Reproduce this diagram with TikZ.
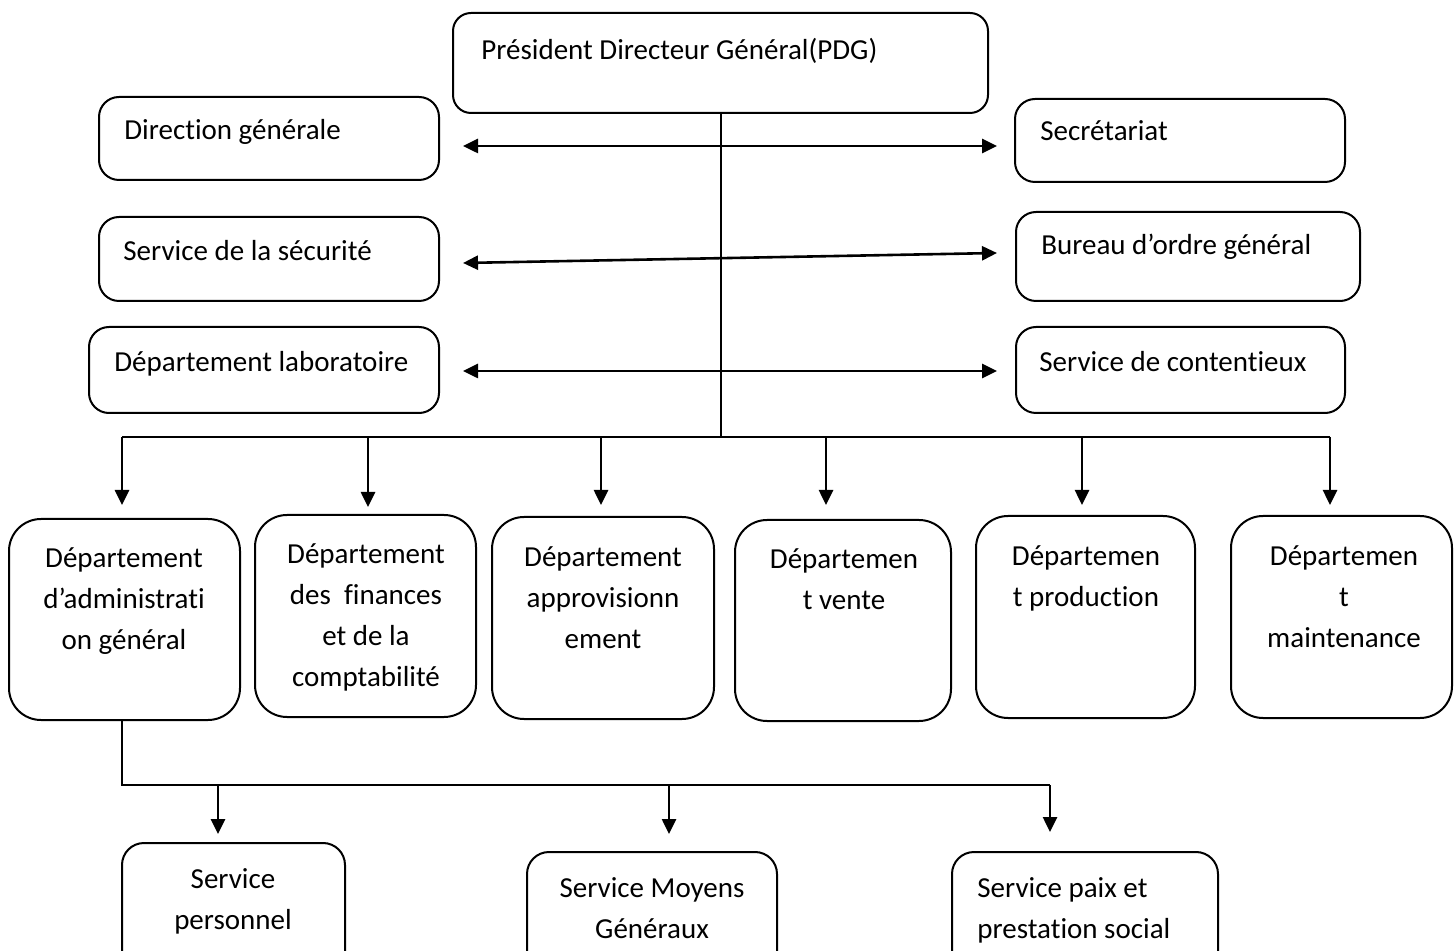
\documentclass[tikz,border=0pt]{standalone}
\usepackage{fontspec}
\setmainfont{Carlito}[RawFeature={-liga;-clig;-calt;-dlig}]
\usetikzlibrary{arrows.meta}
\newcommand{\firststrut}{\rule{0pt}{15pt}}
% keeps t and i as separate glyphs
\newcommand{\tsep}{\kern0pt}
\tikzset{
  box/.style={draw, line width=1pt, rounded corners=10pt, inner sep=0pt},
  dept/.style={box, rounded corners=16pt},
  lbl/.style={inner sep=0pt, font=\fontsize{14.5}{20.5}\selectfont},
  mlbl/.style={lbl, anchor=north, align=center},
  tip/.tip={Triangle[length=7.5pt,width=7pt]},
  arr/.style={line width=1.3pt, -tip},
  biarr/.style={line width=1.3pt, tip-tip},
  trunk/.style={line width=1pt},
}
\begin{document}
\begin{tikzpicture}[x=0.5pt, y=-0.5pt]
  \useasboundingbox (0,0) rectangle (1456,951);
  \clip (0,0) rectangle (1456,951);

  % top management
  \node[box, rounded corners=9pt, minimum width=267.5pt, minimum height=50pt] (pdg) at (720.5,63) {};
  \node[lbl, anchor=base west] (tpdg) at (481,60) {Président Directeur Général(PDG)};

  % staff units, left column
  \node[box, minimum width=170pt, minimum height=41.5pt] (dg) at (269,138.5) {};
  \node[lbl, anchor=base west] (tdg) at (124,140) {Direct\tsep ion générale};
  \node[box, minimum width=170pt, minimum height=42pt] (secu) at (269,259) {};
  \node[lbl, anchor=base west] (tsecu) at (123,261) {Service de la sécurité};
  \node[box, minimum width=175pt, minimum height=43pt] (lab) at (264,370) {};
  \node[lbl, anchor=base west] (tlab) at (114,372) {Département laboratoire};

  % staff units, right column
  \node[box, minimum width=165pt, minimum height=41.5pt] (sec) at (1180,140.5) {};
  \node[lbl, anchor=base west] (tsec) at (1040,141) {Secrétariat};
  \node[box, minimum width=172pt, minimum height=44.5pt] (bog) at (1188,256.5) {};
  \node[lbl, anchor=base west] (tbog) at (1041,255) {Bureau d’ordre général};
  \node[box, minimum width=164.5pt, minimum height=43pt] (cont) at (1180.5,370) {};
  \node[lbl, anchor=base west] (tcont) at (1039,372) {Service de content\tsep ieux};

  % departments
  \node[dept, minimum width=115.5pt, minimum height=100.5pt] (d1) at (124.5,619.5) {};
  \node[mlbl] (td1) at (124,537) {\firststrut Département\\d’administrat\tsep i\\on général};
  \node[dept, minimum width=110.5pt, minimum height=101pt] (d2) at (365.5,616) {};
  \node[mlbl] (td2) at (366,533) {\firststrut Département\\des\ \ finances\\et de la\\comptabilité};
  \node[dept, minimum width=111pt, minimum height=101pt] (d3) at (603,618) {};
  \node[mlbl] (td3) at (603,536) {\firststrut Département\\approvisionn\\ement};
  \node[dept, minimum width=108pt, minimum height=100.5pt] (d4) at (843,620.5) {};
  \node[mlbl] (td4) at (844,538) {\firststrut Départemen\\t vente};
  \node[dept, minimum width=109.5pt, minimum height=101pt] (d5) at (1085.5,617) {};
  \node[mlbl] (td5) at (1086,535) {\firststrut Départemen\\t product\tsep ion};
  \node[dept, minimum width=110.5pt, minimum height=101pt] (d6) at (1341.5,617) {};
  \node[mlbl] (td6) at (1344,535) {\firststrut Départemen\\t\\maintenance};

  % services of the administration department
  \node[box, rounded corners=11pt, minimum width=111.5pt, minimum height=78.5pt] (s1) at (233.5,921.5) {};
  \node[mlbl] (ts1) at (233,858) {\firststrut Service\\personnel};
  \node[box, rounded corners=11pt, minimum width=125pt, minimum height=74pt] (s2) at (652,926) {};
  \node[mlbl] (ts2) at (652,867) {\firststrut Service Moyens\\Généraux};
  \node[box, rounded corners=11pt, minimum width=133pt, minimum height=74pt] (s3) at (1085,926) {};
  \node[mlbl, anchor=north west, align=left] (ts3) at (977,867) {\firststrut Service paix et\\prestation social};

  % two-way links between the staff columns
  \draw[biarr] ([shift={(23,7.5)}]dg.east) -- ([shift={(-17,5.5)}]sec.west);
  \draw[biarr] ([shift={(23,4)}]secu.east) -- ([shift={(-18,-3.5)}]bog.west);
  \draw[biarr] ([shift={(23,1)}]lab.east) -- ([shift={(-18,1)}]cont.west);

  % main trunk and department bus
  \coordinate (bus) at (720.5,437);
  \coordinate (b1) at (122,437);
  \coordinate (b2) at (368,437);
  \coordinate (b3) at (601,437);
  \coordinate (b4) at (826,437);
  \coordinate (b5) at (1082,437);
  \coordinate (b6) at (1330,437);
  \draw[trunk] (pdg.south) -- (bus);
  \draw[line width=1pt] (b1) -- (b6);
  \draw[arr, shorten >=6.5pt] (b1) -- (b1 |- d1.north);
  \draw[arr, shorten >=3.5pt] (b2) -- (b2 |- d2.north);
  \draw[arr, shorten >=5.5pt] (b3) -- (b3 |- d3.north);
  \draw[arr, shorten >=7pt] (b4) -- (b4 |- d4.north);
  \draw[arr, shorten >=5pt] (b5) -- (b5 |- d5.north);
  \draw[arr, shorten >=5pt] (b6) -- (b6 |- d6.north);

  % service bus below the administration department
  \coordinate (c0) at (122,785);
  \coordinate (c1) at (218,785);
  \coordinate (c2) at (669,785);
  \coordinate (c3) at (1050,785);
  \draw[line width=1pt] (c0 |- d1.south) -- (c0) -- (c3);
  \draw[arr, shorten >=4pt] (c1) -- (c1 |- s1.north);
  \draw[arr, shorten >=8.5pt] (c2) -- (c2 |- s2.north);
  \draw[arr, shorten >=9.5pt] (c3) -- (c3 |- s3.north);
\end{tikzpicture}
\end{document}
